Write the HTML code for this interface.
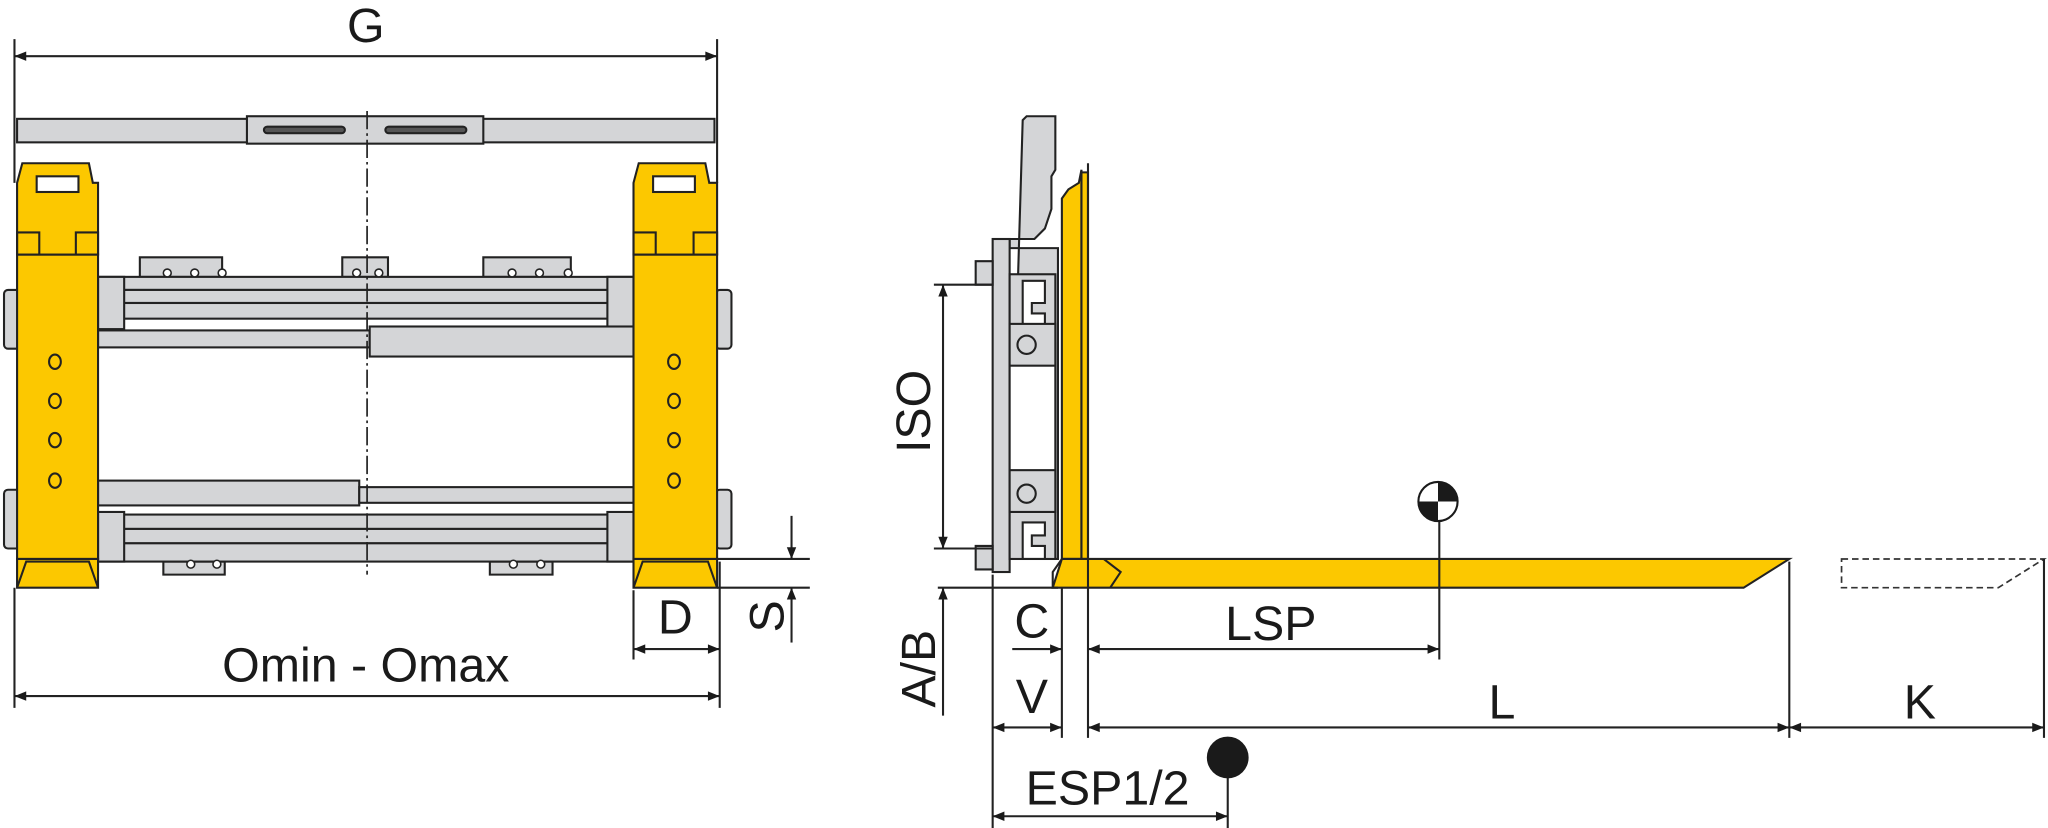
<!DOCTYPE html>
<html><head><meta charset="utf-8"><style>html,body{margin:0;padding:0;background:#fff}svg{display:block}</style></head><body>
<svg width="2048" height="828" viewBox="0 0 1568 634" xmlns="http://www.w3.org/2000/svg" font-family="Liberation Sans, sans-serif">
<defs>
<marker id="a" viewBox="0 0 10 10" refX="10" refY="5" markerWidth="18" markerHeight="9" orient="auto-start-reverse" markerUnits="userSpaceOnUse"><path d="M0,1 L10,5 L0,9 z" fill="#1a1a1a"/></marker>
</defs>
<g stroke="#222" stroke-width="1.6" fill="none">
<line x1="11" y1="30" x2="11" y2="140"/><line x1="549" y1="30" x2="549" y2="140"/>
<line x1="11" y1="43" x2="549" y2="43" marker-start="url(#a)" marker-end="url(#a)"/>
</g>
<g stroke="#222" stroke-width="1.6" fill="#d4d5d7">
<rect x="13" y="91" width="534" height="18"/>
<rect x="189" y="89" width="181" height="21"/>
<rect x="202" y="97" width="62" height="5" rx="2.5" fill="#555"/>
<rect x="295" y="97" width="62" height="5" rx="2.5" fill="#555"/>
<path d="M107,212 V197 H170 V212 Z"/><path d="M262,212 V197 H297 V212 Z"/><path d="M370,212 V197 H437 V212 Z"/>
<path d="M125,430 V440 H172 V430 Z"/><path d="M375,430 V440 H423 V430 Z"/>
<rect x="3" y="222" width="12" height="45" rx="3"/><rect x="548" y="222" width="12" height="45" rx="3"/>
<rect x="3" y="375" width="12" height="45" rx="3"/><rect x="548" y="375" width="12" height="45" rx="3"/>
<rect x="75" y="212" width="410" height="10"/><rect x="75" y="222" width="410" height="10"/><rect x="75" y="232" width="410" height="12"/>
<rect x="75" y="212" width="20" height="40"/><rect x="465" y="212" width="20" height="40"/>
<rect x="75" y="253" width="208" height="13"/><rect x="283" y="250" width="202" height="23"/>
<rect x="75" y="368" width="200" height="19"/><rect x="275" y="373" width="210" height="12"/>
<rect x="75" y="394" width="410" height="11"/><rect x="75" y="405" width="410" height="11"/><rect x="75" y="416" width="410" height="14"/>
<rect x="75" y="392" width="20" height="38"/><rect x="465" y="392" width="20" height="38"/>
</g>
<g fill="#fff" stroke="#222" stroke-width="1.2">
<circle cx="128" cy="209" r="3"/><circle cx="149" cy="209" r="3"/><circle cx="170" cy="209" r="3"/>
<circle cx="273" cy="209" r="3"/><circle cx="290" cy="209" r="3"/>
<circle cx="392" cy="209" r="3"/><circle cx="413" cy="209" r="3"/><circle cx="435" cy="209" r="3"/>
<circle cx="146" cy="432" r="3"/><circle cx="166" cy="432" r="3"/><circle cx="393" cy="432" r="3"/><circle cx="414" cy="432" r="3"/>
</g>
<g stroke="#222" stroke-width="1.6" fill="#fcc800">
<path d="M13,140 L17,125 H68 L71,140 H75 V195 H13 Z"/>
<rect x="13" y="195" width="62" height="233"/>
<rect x="13" y="428" width="62" height="22"/>
<path d="M13,450 L20,430 H68 L75,450" fill="none"/>
<path d="M485,140 L489,125 H540 L543,140 H549 V195 H485 Z"/>
<rect x="485" y="195" width="64" height="233"/>
<rect x="485" y="428" width="64" height="22"/>
<path d="M485,450 L492,430 H542 L549,450" fill="none"/>
<rect x="28" y="135" width="32" height="12" fill="#fff"/>
<rect x="500" y="135" width="32" height="12" fill="#fff"/>
<path d="M13,195 V178 H30 V195 M75,195 V178 H58 V195" fill="none"/>
<path d="M485,195 V178 H502 V195 M549,195 V178 H531 V195" fill="none"/>
<g fill="none"><ellipse cx="42" cy="277" rx="4.5" ry="5.5"/><ellipse cx="42" cy="307" rx="4.5" ry="5.5"/><ellipse cx="42" cy="337" rx="4.5" ry="5.5"/><ellipse cx="42" cy="368" rx="4.5" ry="5.5"/>
<ellipse cx="516" cy="277" rx="4.5" ry="5.5"/><ellipse cx="516" cy="307" rx="4.5" ry="5.5"/><ellipse cx="516" cy="337" rx="4.5" ry="5.5"/><ellipse cx="516" cy="368" rx="4.5" ry="5.5"/></g>
</g>
<line x1="281" y1="85" x2="281" y2="440" stroke="#222" stroke-width="1.3" stroke-dasharray="14,3,2,3"/>
<g stroke="#222" stroke-width="1.6" fill="none">
<line x1="11" y1="450" x2="11" y2="542"/><line x1="485" y1="452" x2="485" y2="505"/><line x1="551" y1="430" x2="551" y2="542"/>
<line x1="485" y1="497" x2="551" y2="497" marker-start="url(#a)" marker-end="url(#a)"/>
<line x1="11" y1="533" x2="551" y2="533" marker-start="url(#a)" marker-end="url(#a)"/>
<line x1="549" y1="428" x2="620" y2="428"/><line x1="549" y1="450" x2="620" y2="450"/>
<line x1="606" y1="395" x2="606" y2="428" marker-end="url(#a)"/><line x1="606" y1="492" x2="606" y2="450" marker-end="url(#a)"/>
</g>
<g fill="#1a1a1a" font-size="37">
<text x="280" y="32" text-anchor="middle">G</text>
<text x="517" y="485" text-anchor="middle">D</text>
<text x="280" y="522" text-anchor="middle">Omin - Omax</text>
<text transform="translate(600,472) rotate(-90)" text-anchor="middle">S</text>
</g>
<g stroke="#222" stroke-width="1.6" fill="#d4d5d7">
<path d="M783,92 L786,89 H808 V130 L805,135 V160 L800,175 L792,183 H773 V190 H810 V428 H773 Z"/>
<rect x="760" y="183" width="13" height="255"/>
<path d="M760,200 H747 V218 H760 Z"/><path d="M760,418 H747 V436 H760 Z"/>
<rect x="773" y="210" width="35" height="218"/>
<path d="M783,215 H800 V232 H790 V240 H800 V250 H783 Z" fill="#fff"/>
<path d="M783,400 H800 V410 H790 V418 H800 V428 H783 Z" fill="#fff"/>
<rect x="773" y="263" width="35" height="110" fill="#fff"/>
<rect x="773" y="248" width="35" height="32"/><rect x="773" y="360" width="35" height="32"/>
<circle cx="786" cy="264" r="7" fill="none"/><circle cx="786" cy="378" r="7" fill="none"/>
</g>
<g stroke="#222" stroke-width="1.6" fill="#fcc800">
<path d="M813,152 L818,145 L826,140 L828,130 V428 H813 Z"/>
<path d="M828,132 H833 V428 H828 Z"/>
<path d="M813,428 H1370 L1335,450 H806 Z"/>
<path d="M813,428 L806,438 V450 M845,428 L858,438 L850,450" fill="none"/>
</g>
<path d="M1410,428 H1565 L1530,450 H1410 Z" fill="none" stroke="#333" stroke-width="1.3" stroke-dasharray="5,3"/>
<g stroke="#222" stroke-width="1.6" fill="none">
<line x1="833" y1="125" x2="833" y2="565"/>
<line x1="813" y1="450" x2="813" y2="565"/>
<line x1="760" y1="440" x2="760" y2="634"/>
<line x1="715" y1="218" x2="760" y2="218"/><line x1="715" y1="420" x2="760" y2="420"/>
<line x1="722" y1="218" x2="722" y2="420" marker-start="url(#a)" marker-end="url(#a)"/>
<line x1="718" y1="450" x2="810" y2="450"/>
<line x1="722" y1="548" x2="722" y2="450" marker-end="url(#a)"/>
<line x1="1102" y1="398" x2="1102" y2="505"/>
<line x1="1370" y1="430" x2="1370" y2="565"/><line x1="1565" y1="428" x2="1565" y2="565"/>
<line x1="940" y1="590" x2="940" y2="634"/>
<line x1="775" y1="497" x2="813" y2="497" marker-end="url(#a)"/>
<line x1="833" y1="497" x2="1102" y2="497" marker-start="url(#a)" marker-end="url(#a)"/>
<line x1="760" y1="557" x2="813" y2="557" marker-start="url(#a)" marker-end="url(#a)"/>
<line x1="833" y1="557" x2="1370" y2="557" marker-start="url(#a)" marker-end="url(#a)"/>
<line x1="1370" y1="557" x2="1565" y2="557" marker-start="url(#a)" marker-end="url(#a)"/>
<line x1="760" y1="625" x2="940" y2="625" marker-start="url(#a)" marker-end="url(#a)"/>
</g>
<circle cx="1101" cy="384" r="15" fill="#fff" stroke="#1a1a1a" stroke-width="1.6"/>
<path d="M1101,384 V369 A15,15 0 0,1 1116,384 Z M1101,384 V399 A15,15 0 0,1 1086,384 Z" fill="#1a1a1a"/>
<circle cx="940" cy="580" r="16" fill="#1a1a1a"/>
<g fill="#1a1a1a" font-size="37">
<text transform="translate(712,315) rotate(-90)" text-anchor="middle">ISO</text>
<text transform="translate(716,512) rotate(-90)" text-anchor="middle">A/B</text>
<text x="790" y="488" text-anchor="middle">C</text>
<text x="790" y="546" text-anchor="middle">V</text>
<text x="973" y="490" text-anchor="middle">LSP</text>
<text x="1150" y="550" text-anchor="middle">L</text>
<text x="1470" y="550" text-anchor="middle">K</text>
<text x="848" y="616" text-anchor="middle">ESP1/2</text>
</g>
</svg>
</body></html>
